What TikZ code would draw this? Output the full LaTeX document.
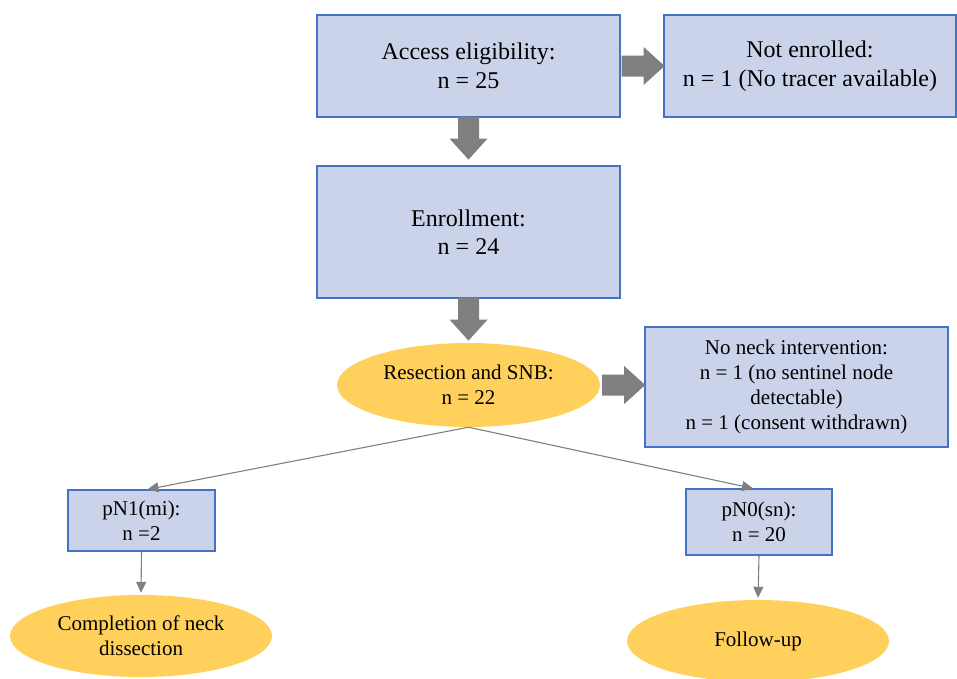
\documentclass[tikz,border=0pt]{standalone}
\usepackage{fontspec}
\setmainfont{Liberation Serif}
\newfontfamily\flowfont{Liberation Serif}
\usetikzlibrary{arrows.meta,shapes.geometric}
\definecolor{boxfill}{HTML}{CAD3EA}
\definecolor{boxline}{HTML}{4472C4}
\definecolor{ovalfill}{HTML}{FFD15C}
\definecolor{arrowgray}{HTML}{7F7F7F}
\tikzset{
  bigtext/.style={font=\flowfont\fontsize{24}{28.5}\selectfont},
  smalltext/.style={font=\flowfont\fontsize{21}{25}\selectfont},
  stepbox/.style={draw=boxline, line width=1.2pt, fill=boxfill, align=center, inner sep=0pt},
  oval/.style={ellipse, fill=ovalfill, align=center, inner sep=0pt},
  thinarrow/.style={draw=arrowgray, line width=1.1pt, -{Triangle[length=11pt,width=10pt]}},
  blockarrow/.pic={\fill[arrowgray] (0,-10.5) -- (22,-10.5) -- (22,-19) -- (43,0) -- (22,19) -- (22,10.5) -- (0,10.5) -- cycle;}
}
\begin{document}
\begin{tikzpicture}[x=1pt,y=-1pt]
\useasboundingbox (0,0) rectangle (957,678);

% boxes of the flow
\node[stepbox, bigtext, minimum width=303pt, minimum height=102pt] (acc) at (468.5,66) {Access eligibility:\\n = 25};
\node[stepbox, bigtext, minimum width=292pt, minimum height=102pt] (ne) at (810,66) {Not enrolled:\\n = 1 (No tracer available)};
\node[stepbox, bigtext, minimum width=303pt, minimum height=132pt] (enr) at (468.5,232) {Enrollment:\\n = 24};
\node[oval, smalltext, minimum width=263pt, minimum height=84pt] (res) at (468.5,385) {Resection and SNB:\\n = 22};
\node[stepbox, smalltext, minimum width=303pt, minimum height=120pt] (nn) at (796.5,387) {No neck intervention:\\n = 1 (no sentinel node\\detectable)\\n = 1 (consent withdrawn)};
\node[stepbox, smalltext, minimum width=147pt, minimum height=61pt] (pn1) at (141.5,520.5) {pN1(mi):\\n =2};
\node[stepbox, smalltext, minimum width=146pt, minimum height=66pt] (pn0) at (759,522) {pN0(sn):\\n = 20};
\node[oval, smalltext, minimum width=262pt, minimum height=82pt] (comp) at (141,636) {Completion of neck\\dissection};
\node[oval, smalltext, minimum width=262pt, minimum height=82pt] (fu) at (758,641) {Follow-up};

% thick block arrows
\pic at ([xshift=1pt]acc.east) {blockarrow};
\pic[rotate=-90] at ([yshift=1pt]acc.south) {blockarrow};
\pic[rotate=-90] at ([yshift=1pt]enr.south) {blockarrow};
\pic at ([xshift=2pt]res.east) {blockarrow};

% thin connectors
\draw[thinarrow] (res.south) -- ([xshift=6pt]pn1.north);
\draw[thinarrow] (res.south) -- ([xshift=-6pt]pn0.north);
\draw[thinarrow, shorten >=2pt] (pn1.south) -- (comp.north);
\draw[thinarrow, shorten >=2pt] (pn0.south) -- (fu.north);
\end{tikzpicture}
\end{document}
